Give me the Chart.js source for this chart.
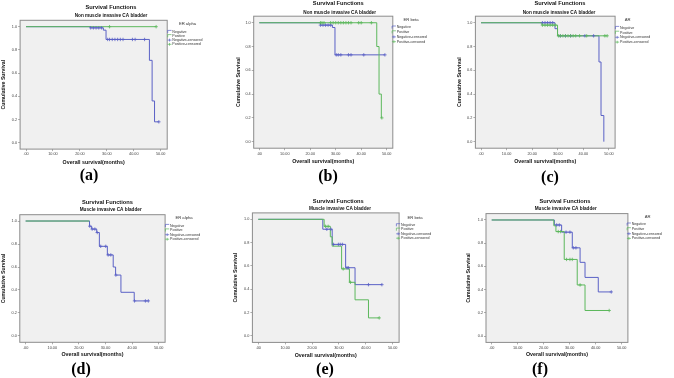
<!DOCTYPE html>
<html><head><meta charset="utf-8">
<script src="https://cdn.jsdelivr.net/npm/chart.js@4.4.1/dist/chart.umd.min.js"></script>
<style>
html,body{margin:0;padding:0;background:#fff;}
body{width:674px;height:378px;position:relative;overflow:hidden;}
canvas{position:absolute;}
.lab{position:absolute;font-family:"Liberation Serif","Times New Roman",serif;font-weight:bold;font-size:16px;transform:translate(-50%,-50%);color:#000;line-height:1;white-space:nowrap;}
</style></head><body>
<script>
// ---------- data ----------
const xTickValues = [0, 10, 20, 30, 40, 50];
const xTickLabels = ['.00', '10.00', '20.00', '30.00', '40.00', '50.00'];
const yTickValues = [0, 0.2, 0.4, 0.6, 0.8, 1.0];
const yTickLabels = ['0.0', '0.2', '0.4', '0.6', '0.8', '1.0'];
const seriesNames = ['Negative', 'Positive', 'Negative-censored', 'Positive-censored'];
const panelTitle = 'Survival Functions';
const groupTitles = ['Non muscle invasive CA bladder', 'Muscle invasive CA bladder'];
const markerNames = ['ER alpha', 'ER beta', 'AR'];
const panelLetters = ['(a)', '(b)', '(c)', '(d)', '(e)', '(f)'];
const xAxisTitle = 'Overall survival(months)';
const yAxisTitle = 'Cumulative Survival';

// (a) Non muscle invasive, ER alpha
const aNegTime = [0, 24, 28.7, 29.7, 45.8, 46.8, 47.7, 49.3];
const aNegSurv = [1, 0.99, 0.97, 0.89, 0.71, 0.36, 0.18, 0.18];
const aNegCensTime = [24, 25, 26, 27, 28, 30.3, 31, 32, 33, 34, 35, 36, 39.5, 40.5, 44, 49.3];
const aNegCensSurv = [0.99, 0.99, 0.99, 0.99, 0.99, 0.89, 0.89, 0.89, 0.89, 0.89, 0.89, 0.89, 0.89, 0.89, 0.89, 0.18];
const aPosTime = [0, 48.3];
const aPosSurv = [1, 1];
const aPosCensTime = [31, 48.3];
const aPosCensSurv = [1, 1];

// (b) Non muscle invasive, ER beta
const bNegTime = [0, 24, 28.7, 29.7, 49.3];
const bNegSurv = [1, 0.98, 0.96, 0.73, 0.73];
const bNegCensTime = [24, 25, 26, 27, 28, 30.2, 31, 32, 35, 36, 41, 49.3];
const bNegCensSurv = [0.98, 0.98, 0.98, 0.98, 0.98, 0.73, 0.73, 0.73, 0.73, 0.73, 0.73, 0.73];
const bPosTime = [0, 46.1, 47, 47.9, 48.1];
const bPosSurv = [1, 0.8, 0.4, 0.2, 0.2];
const bPosCensTime = [24, 24.6, 25.4, 28, 29, 30, 31, 32, 33, 34, 35, 36, 39, 40, 44, 48.1];
const bPosCensSurv = [1, 1, 1, 1, 1, 1, 1, 1, 1, 1, 1, 1, 1, 1, 1, 0.2];

// (c) Non muscle invasive, AR
const cNegTime = [0, 28.9, 29.9, 46.1, 46.9, 48];
const cNegSurv = [1, 0.95, 0.89, 0.67, 0.22, 0];
const cNegCensTime = [24, 25, 26, 27, 28, 31, 33, 35, 40.6, 44];
const cNegCensSurv = [1, 1, 1, 1, 1, 0.89, 0.89, 0.89, 0.89, 0.89];
const cPosTime = [0, 23.8, 29.9, 49.3];
const cPosSurv = [1, 0.98, 0.89, 0.89];
const cPosCensTime = [24, 25, 26, 27, 28, 29, 30.3, 31, 32, 33, 34, 35, 36, 37, 38.5, 41.3, 48.4, 49.3];
const cPosCensSurv = [0.98, 0.98, 0.98, 0.98, 0.98, 0.98, 0.89, 0.89, 0.89, 0.89, 0.89, 0.89, 0.89, 0.89, 0.89, 0.89, 0.89, 0.89];

// (d) Muscle invasive, ER alpha
const dNegTime = [0, 24, 24.8, 26.7, 27.7, 30.7, 32.9, 33.8, 35.8, 40.8, 46.1];
const dNegSurv = [1, 0.955, 0.93, 0.9, 0.78, 0.705, 0.6, 0.53, 0.38, 0.305, 0.305];
const dNegCensTime = [24.1, 25, 26, 26.9, 28.2, 30.1, 31, 32, 33.9, 40.9, 45, 46.1];
const dNegCensSurv = [0.955, 0.93, 0.93, 0.9, 0.78, 0.78, 0.705, 0.705, 0.53, 0.305, 0.305, 0.305];
const dPosTime = [0, 24];
const dPosSurv = [1, 1];
const dPosCensTime = [];
const dPosCensSurv = [];

// (e) Muscle invasive, ER beta
const eNegTime = [0, 24, 27.5, 32.5, 36, 46];
const eNegSurv = [1, 0.915, 0.785, 0.585, 0.44, 0.44];
const eNegCensTime = [25.5, 27, 28, 29.8, 30.5, 31.3, 33, 33.5, 41, 46];
const eNegCensSurv = [0.915, 0.915, 0.785, 0.785, 0.785, 0.785, 0.585, 0.585, 0.44, 0.44];
const ePosTime = [0, 24.5, 26.8, 27.5, 31, 33.9, 36, 41, 45];
const ePosSurv = [1, 0.94, 0.85, 0.77, 0.575, 0.46, 0.31, 0.155, 0.155];
const ePosCensTime = [25, 26, 31.6, 34.3, 45];
const ePosCensSurv = [0.94, 0.94, 0.575, 0.46, 0.155];

// (f) Muscle invasive, AR
const fNegTime = [0, 24.1, 26.9, 31, 34, 35.9, 41, 46];
const fNegSurv = [1, 0.957, 0.895, 0.76, 0.635, 0.505, 0.38, 0.38];
const fNegCensTime = [25, 26, 28.6, 30.1, 31.4, 32.4, 46];
const fNegCensSurv = [0.957, 0.957, 0.895, 0.895, 0.76, 0.76, 0.38];
const fPosTime = [0, 23.9, 24.7, 27.9, 32.9, 35.9, 45.2];
const fPosSurv = [1, 0.95, 0.9, 0.66, 0.44, 0.22, 0.22];
const fPosCensTime = [25.6, 26.5, 28.8, 30.1, 31, 34, 45.2];
const fPosCensSurv = [0.9, 0.9, 0.66, 0.66, 0.66, 0.44, 0.22];

// ---------- presentation ----------
const BLUE = '#5a61c6';
const GREEN = '#5cb85c';
const FONT = '"Liberation Sans", Arial, sans-serif';

const panels = [
  {sub: groupTitles[0], lg: markerNames[0], letter: panelLetters[0], nT: aNegTime, nS: aNegSurv, nCT: aNegCensTime, nCS: aNegCensSurv, pT: aPosTime, pS: aPosSurv, pCT: aPosCensTime, pCS: aPosCensSurv},
  {sub: groupTitles[0], lg: markerNames[1], letter: panelLetters[1], nT: bNegTime, nS: bNegSurv, nCT: bNegCensTime, nCS: bNegCensSurv, pT: bPosTime, pS: bPosSurv, pCT: bPosCensTime, pCS: bPosCensSurv},
  {sub: groupTitles[0], lg: markerNames[2], letter: panelLetters[2], nT: cNegTime, nS: cNegSurv, nCT: cNegCensTime, nCS: cNegCensSurv, pT: cPosTime, pS: cPosSurv, pCT: cPosCensTime, pCS: cPosCensSurv},
  {sub: groupTitles[1], lg: markerNames[0], letter: panelLetters[3], nT: dNegTime, nS: dNegSurv, nCT: dNegCensTime, nCS: dNegCensSurv, pT: dPosTime, pS: dPosSurv, pCT: dPosCensTime, pCS: dPosCensSurv},
  {sub: groupTitles[1], lg: markerNames[1], letter: panelLetters[4], nT: eNegTime, nS: eNegSurv, nCT: eNegCensTime, nCS: eNegCensSurv, pT: ePosTime, pS: ePosSurv, pCT: ePosCensTime, pCS: ePosCensSurv},
  {sub: groupTitles[1], lg: markerNames[2], letter: panelLetters[5], nT: fNegTime, nS: fNegSurv, nCT: fNegCensTime, nCS: fNegCensSurv, pT: fPosTime, pS: fPosSurv, pCT: fPosCensTime, pCS: fPosCensSurv}
];

const geom = [
  {cx:0,   cy:0,   cw:225, ch:185, L:20.1,  R:167.2, T:20.3,  B:149.1, tX:111,   tY:7.3,   sX:111,   sY:16,    yTX:3.3,   xTY:162.3, lgTX:187.5, lgTY:24,    lgX:172.3, lgY:31.7,  lgS:4.2, labX:89,  labY:175},
  {cx:225, cy:0,   cw:220, ch:185, L:253.7, R:392.8, T:16.2,  B:148.2, tX:338.3, tY:3.6,   sX:339.7, sY:12.7,  yTX:238.3, xTY:161.7, lgTX:411,   lgTY:20,    lgX:396.7, lgY:27.3,  lgS:4.8, labX:328, labY:176},
  {cx:445, cy:0,   cw:229, ch:185, L:475.4, R:615.1, T:16.2,  B:148.2, tX:560,   tY:3.6,   sX:559,   sY:12.7,  yTX:460,   xTY:161.7, lgTX:627.7, lgTY:20,    lgX:620,   lgY:27.7,  lgS:4.8, labX:550, labY:177},
  {cx:0,   cy:185, cw:225, ch:193, L:19.8,  R:165.1, T:214.7, B:342.3, tX:107.5, tY:202.3, sX:110.7, sY:210,   yTX:3.3,   xTY:355,   lgTX:184,   lgTY:217.7, lgX:170,   lgY:225.7, lgS:4.5, labX:81,  labY:369},
  {cx:225, cy:185, cw:220, ch:193, L:252.4, R:399.1, T:212.9, B:342.4, tX:338.3, tY:201,   sX:340,   sY:208.3, yTX:236,   xTY:355.7, lgTX:415,   lgTY:217.7, lgX:401,   lgY:225,   lgS:4.4, labX:325, labY:369},
  {cx:445, cy:185, cw:229, ch:193, L:486,   R:627.9, T:213.6, B:342.4, tX:565,   tY:201,   sX:565.7, sY:208.3, yTX:469,   xTY:355,   lgTX:647.7, lgTY:217.3, lgX:631.7, lgY:224.3, lgS:4.7, labX:540, labY:369}
];

const X_MIN = -2.2, X_MAX = 52.4, Y_MIN = -0.055, Y_MAX = 1.055;
const TICK_FONT = 3.8, XT_FONT = 5.3, YT_FONT = 5.2, TITLE_FONT = 5.7, SUB_FONT = 4.7, LG_T_FONT = 4.2, LG_FONT = 3.6;

function pts(t, s) { return t.map((v, i) => ({x: v, y: s[i]})); }

const decor = {
  id: 'decor',
  beforeDraw(chart, args, o) {
    const a = chart.chartArea, c = chart.ctx;
    c.save();
    c.fillStyle = '#f0f0f0';
    c.fillRect(a.left, a.top, a.right - a.left, a.bottom - a.top);
    c.restore();
  },
  afterDraw(chart, args, o) {
    const a = chart.chartArea, c = chart.ctx, g = o.g;
    c.save();
    c.strokeStyle = '#8c8c8c';
    c.lineWidth = 1;
    c.strokeRect(a.left, a.top, a.right - a.left, a.bottom - a.top);
    c.fillStyle = '#111';
    c.textAlign = 'center';
    c.textBaseline = 'middle';
    c.font = 'bold ' + TITLE_FONT + 'px ' + FONT;
    c.fillText(panelTitle, g.tX - g.cx, g.tY - g.cy);
    c.font = 'bold ' + SUB_FONT + 'px ' + FONT;
    c.fillText(o.sub, g.sX - g.cx, g.sY - g.cy);
    c.fillStyle = '#333';
    c.font = LG_T_FONT + 'px ' + FONT;
    c.fillText(o.lg, g.lgTX - g.cx, g.lgTY - g.cy);
    c.font = LG_FONT + 'px ' + FONT;
    c.textAlign = 'left';
    const cols = [BLUE, GREEN, BLUE, GREEN];
    seriesNames.forEach((nm, i) => {
      const x = g.lgX - g.cx, y = g.lgY + i * g.lgS - g.cy;
      c.strokeStyle = cols[i];
      c.lineWidth = 0.7;
      c.beginPath();
      if (i < 2) {
        c.moveTo(x - 4.6, y + 1.3); c.lineTo(x - 4.6, y - 1.3); c.lineTo(x - 0.8, y - 1.3);
      } else {
        c.moveTo(x - 4.8, y); c.lineTo(x - 0.8, y);
        c.moveTo(x - 2.8, y - 1.4); c.lineTo(x - 2.8, y + 1.4);
      }
      c.stroke();
      c.fillStyle = '#333';
      c.fillText(nm, x, y);
    });
    c.restore();
  }
};

panels.forEach((p, k) => {
  const g = geom[k];
  const cv = document.createElement('canvas');
  cv.width = g.cw; cv.height = g.ch;
  cv.style.left = g.cx + 'px'; cv.style.top = g.cy + 'px';
  cv.style.width = g.cw + 'px'; cv.style.height = g.ch + 'px';
  document.body.appendChild(cv);

  const lhY = YT_FONT * 1.2, lhX = XT_FONT * 1.2;
  const padLeft = Math.max(0, g.yTX - g.cx - lhY / 2);
  const yW = (g.L - g.cx) - padLeft;
  const xH = (g.xTY - g.B) + lhX / 2;
  const padBottom = g.ch - (g.B - g.cy) - xH;
  const padTop = g.T - g.cy;
  const padRight = g.cw - (g.R - g.cx);

  const lab = document.createElement('div');
  lab.className = 'lab';
  lab.textContent = p.letter;
  lab.style.left = g.labX + 'px';
  lab.style.top = g.labY + 'px';
  document.body.appendChild(lab);

  new Chart(cv, {
    type: 'line',
    data: {
      datasets: [
        {label: seriesNames[3], data: pts(p.pCT, p.pCS), showLine: false, pointStyle: 'cross', pointRadius: 1.7, pointBorderWidth: 0.8, borderColor: GREEN, backgroundColor: GREEN, order: 0},
        {label: seriesNames[2], data: pts(p.nCT, p.nCS), showLine: false, pointStyle: 'cross', pointRadius: 1.7, pointBorderWidth: 0.8, borderColor: BLUE, backgroundColor: BLUE, order: 1},
        {label: seriesNames[1], data: pts(p.pT, p.pS), stepped: 'before', borderColor: GREEN, borderWidth: 1, pointRadius: 0, fill: false, order: 2},
        {label: seriesNames[0], data: pts(p.nT, p.nS), stepped: 'before', borderColor: BLUE, borderWidth: 1, pointRadius: 0, fill: false, order: 3}
      ]
    },
    options: {
      responsive: false,
      devicePixelRatio: 1,
      animation: false,
      events: [],
      layout: {padding: {left: padLeft, right: padRight, top: padTop, bottom: padBottom}},
      plugins: {
        legend: {display: false},
        tooltip: {enabled: false},
        title: {display: false},
        decor: {g: g, sub: p.sub, lg: p.lg}
      },
      scales: {
        x: {
          type: 'linear', min: X_MIN, max: X_MAX,
          afterBuildTicks: s => { s.ticks = xTickValues.map(v => ({value: v})); },
          afterFit: s => { s.height = xH; },
          ticks: {font: {size: TICK_FONT, family: FONT}, color: '#444', padding: 1, maxRotation: 0, autoSkip: false,
                  callback: (v, i) => xTickLabels[i]},
          grid: {drawOnChartArea: false, drawTicks: true, tickLength: 2, color: '#777', lineWidth: 0.6},
          border: {display: false},
          title: {display: true, text: xAxisTitle, color: '#111', font: {size: XT_FONT, weight: 'bold', family: FONT}, padding: {top: 0, bottom: 0}}
        },
        y: {
          type: 'linear', min: Y_MIN, max: Y_MAX,
          afterBuildTicks: s => { s.ticks = yTickValues.map(v => ({value: v})); },
          afterFit: s => { s.width = yW; },
          ticks: {font: {size: TICK_FONT, family: FONT}, color: '#444', padding: 1, autoSkip: false,
                  callback: (v, i) => yTickLabels[i]},
          grid: {drawOnChartArea: false, drawTicks: true, tickLength: 2, color: '#777', lineWidth: 0.6},
          border: {display: false},
          title: {display: true, text: yAxisTitle, color: '#111', font: {size: YT_FONT, weight: 'bold', family: FONT}, padding: {top: 0, bottom: 0}}
        }
      }
    },
    plugins: [decor]
  });
});
</script>
</body></html>
